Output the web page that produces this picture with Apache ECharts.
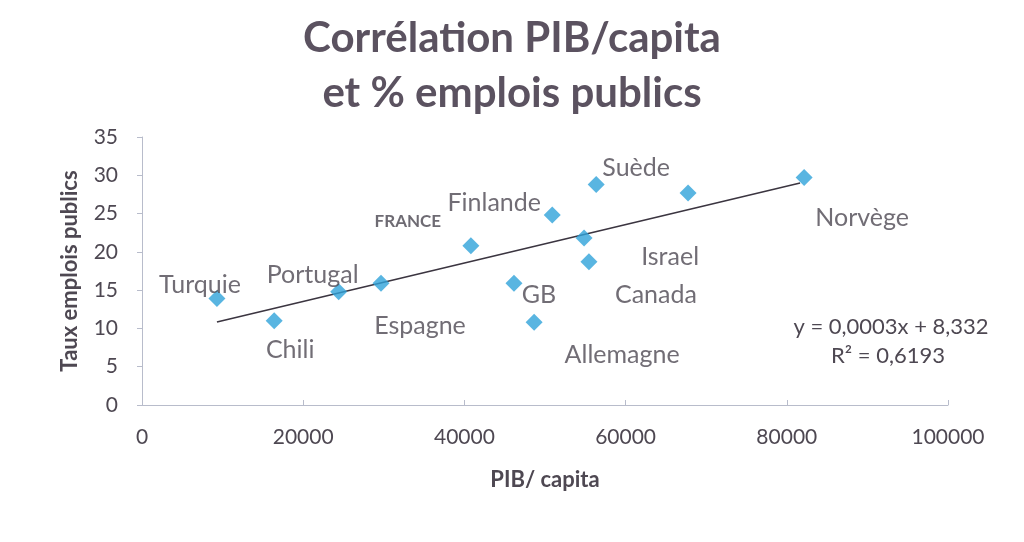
<!DOCTYPE html>
<html><head><meta charset="utf-8">
<script src="https://cdn.jsdelivr.net/npm/echarts@6/dist/echarts.min.js"></script>
<style>html,body{margin:0;padding:0;background:#fff}#c{width:1024px;height:542px}</style>
</head><body><div id="c"></div>
<script>
// Data
const countries = ['Turquie','Chili','Portugal','Espagne','FRANCE','GB','Allemagne','Finlande','Israel','Canada','Suède','','Norvège'];
const pibCapita = [9300, 16400, 24400, 29650, 40800, 46150, 48650, 50900, 54850, 55450, 56350, 67750, 82150];
const tauxEmplois = [13.9, 11.0, 14.8, 15.9, 20.8, 15.9, 10.8, 24.8, 21.8, 18.7, 28.8, 27.7, 29.7];
const trendX = [9300, 81650];
const trendY = [10.85, 29.0];
const xTicks = [0, 20000, 40000, 60000, 80000, 100000];
const yTicks = [0, 5, 10, 15, 20, 25, 30, 35];
const equationText = 'y = 0,0003x + 8,332';
const r2Text = 'R² = 0,6193';

// Label placement (pixel offsets from each marker)
const labelOffsets = [[-17,-14],[16,29],[-26,-17],[39,43],[-63,-24],[25,12],[88,33],[-58,-12],[86,19],[67,33],[40,-17],[0,0],[58,40]];

const FONT = 'Lato';
const TXT = '#4e4852';

const chart = echarts.init(document.getElementById('c'), null, {renderer:'canvas'});
const pts = countries.map((n,i)=>({
  name: n,
  value: [pibCapita[i], tauxEmplois[i]],
  label: n === 'FRANCE'
    ? {show:true, offset: labelOffsets[i], fontWeight:'bold', fontSize:17, color:'#4a4650'}
    : {show: n !== '', offset: labelOffsets[i]}
}));

chart.setOption({
  animation:false,
  backgroundColor:'#fff',
  title:{
    text:'Corrélation PIB/capita\net % emplois publics',
    left:'center', top:6,
    textStyle:{fontFamily:FONT, fontWeight:'bold', fontSize:42, color:'#5b5260', lineHeight:55}
  },
  grid:{left:142, right:76, top:137, bottom:137},
  xAxis:{
    type:'value', min:0, max:100000, interval:20000,
    name:'PIB/ capita', nameLocation:'middle', nameGap:64,
    nameTextStyle:{fontFamily:FONT, fontWeight:'bold', fontSize:22, color:TXT},
    axisLine:{show:true, lineStyle:{color:'#b8bccb', width:1}},
    axisTick:{show:true, inside:true, length:5, lineStyle:{color:'#b8bccb'}},
    splitLine:{show:false},
    axisLabel:{fontFamily:FONT, fontSize:21, color:TXT, margin:22,
      formatter:v=> xTicks.includes(v) ? String(v) : ''}
  },
  yAxis:{
    type:'value', min:0, max:35, interval:5,
    name:'Taux emplois publics', nameLocation:'middle', nameGap:61, nameRotate:90,
    nameTextStyle:{fontFamily:FONT, fontWeight:'bold', fontSize:22, color:TXT},
    axisLine:{show:true, lineStyle:{color:'#b8bccb', width:1}},
    axisTick:{show:true, length:5, lineStyle:{color:'#b8bccb'}},
    splitLine:{show:false},
    axisLabel:{fontFamily:FONT, fontSize:21, color:TXT, margin:24,
      formatter:v=> yTicks.includes(v) ? String(v) : ''}
  },
  series:[
    {
      type:'line',
      data: trendX.map((x,i)=>[x, trendY[i]]),
      symbol:'none',
      lineStyle:{color:'#3b3540', width:1.6},
      z:2, silent:true
    },
    {
      type:'scatter',
      data: pts,
      symbol:'diamond',
      symbolSize:17,
      itemStyle:{color:'#2fa2da'},
      label:{
        show:true, position:'inside',
        formatter:p=>p.name,
        fontFamily:FONT, fontSize:25, color:TXT
      },
      z:3
    }
  ],
  graphic:[
    {type:'text', x:891, y:327, style:{text:equationText, fontFamily:FONT, fontSize:22, fill:TXT, align:'center', verticalAlign:'middle'}},
    {type:'text', x:888, y:356, style:{text:r2Text, fontFamily:FONT, fontSize:22, fill:TXT, align:'center', verticalAlign:'middle'}}
  ]
});
</script></body></html>
